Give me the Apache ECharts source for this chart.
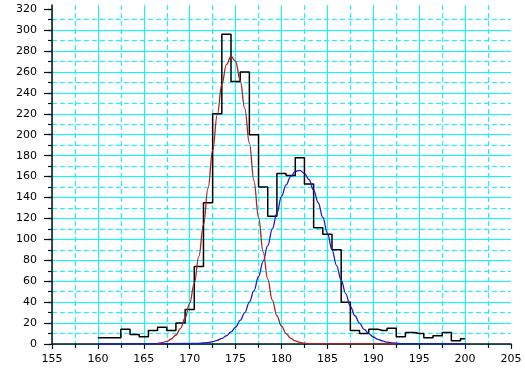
<!DOCTYPE html>
<html>
<head>
<meta charset="utf-8">
<script src="https://cdn.jsdelivr.net/npm/echarts@6/dist/echarts.min.js"></script>
<style>
  html, body { margin: 0; padding: 0; background: #ffffff; }
  #chart { width: 525px; height: 376px; }
</style>
</head>
<body>
<div id="chart"></div>
<script>
// Histogram: bin centres (width 1) and their counts
const binCenters = [160, 161, 162, 163, 164, 165, 166, 167, 168, 169,
                    170, 171, 172, 173, 174, 175, 176, 177, 178, 179,
                    180, 181, 182, 183, 184, 185, 186, 187, 188, 189,
                    190, 191, 192, 193, 194, 195, 196, 197, 198, 199, 200];
const binCounts  = [6, 6, 6, 14, 9, 7, 13, 16, 13, 20,
                    33, 74, 135, 220, 296, 251, 260, 200, 150, 122,
                    163, 161, 178, 153, 111, 105, 90, 40, 13, 10,
                    14, 13, 15, 7, 11, 10, 6, 8, 11, 3, 5];

// First fitted peak (red)
const redX = [166.5, 167, 167.5, 168, 168.5, 169, 169.5, 170, 170.5, 171,
              171.5, 172, 172.5, 173, 173.5, 174, 174.5, 175, 175.5, 176,
              176.5, 177, 177.5, 178, 178.5, 179, 179.5, 180, 180.5, 181,
              181.5, 182, 182.5, 183, 192.5];
const redY = [0.6, 1.3, 2.5, 4.8, 8.6, 15, 25, 39, 58, 84,
              114, 149, 185, 219, 248, 267, 275, 270, 252, 225,
              192, 156, 121, 88, 62, 42, 27, 17, 10, 5.4,
              2.9, 1.5, 0.7, 0.3, 0];

// Second fitted peak (blue)
const blueX = [160, 171, 172, 172.5, 173, 173.5, 174, 174.5, 175, 175.5,
               176, 176.5, 177, 177.5, 178, 178.5, 179, 179.5, 180, 180.5,
               181, 181.5, 182, 182.5, 183, 183.5, 184, 184.5, 185, 185.5,
               186, 186.5, 187, 187.5, 188, 188.5, 189, 189.5, 190, 190.5,
               191, 191.5, 192, 193, 200];
const blueY = [0, 0.5, 1.4, 2.2, 3.5, 5.3, 7.9, 11.5, 16, 22.5,
               30, 40, 51, 64.5, 79, 94, 110, 125, 141, 152,
               160, 165, 166, 163, 157, 147, 135, 121, 106, 90,
               75, 61, 48, 36, 27, 20, 14, 10, 6.7, 4.5,
               2.9, 1.8, 1.1, 0.4, 0];

// Axis ranges: [min, max, labelled step, dashed-grid step]
const xRange = [155, 205, 5, 2.5];
const yRange = [0, 324, 20, 10];
// Labelled and minor tick positions on the count axis (it runs a little past 320)
const yTickValues  = [0, 20, 40, 60, 80, 100, 120, 140, 160, 180, 200, 220, 240, 260, 280, 300, 320];
const yMinorValues = [0, 10, 20, 30, 40, 50, 60, 70, 80, 90, 100, 110, 120, 130, 140, 150, 160,
                      170, 180, 190, 200, 210, 220, 230, 240, 250, 260, 270, 280, 290, 300, 310, 320];

const zip = (xs, ys) => xs.map((x, i) => [x, ys[i]]);

const GRID_CYAN = '#00ffff';
const INK = '#111111';
const labelStyle = () => ({ fontFamily: 'DejaVu Sans', fontSize: 11, color: '#000000' });
const solidGrid = (maxLine) => ({
  show: true, showMinLine: true, showMaxLine: maxLine,
  lineStyle: { color: GRID_CYAN, width: 1, type: 'solid' }
});
const dashedGrid = () => ({
  show: true, showMinLine: false, showMaxLine: false,
  lineStyle: { color: GRID_CYAN, width: 1, type: [5, 3] }
});

const chart = echarts.init(document.getElementById('chart'), null, { renderer: 'canvas' });
chart.setOption({
  animation: false,
  backgroundColor: '#ffffff',
  grid: { left: 52, right: 14, top: 5, bottom: 32, containLabel: false },
  xAxis: [
    {
      type: 'value',
      min: xRange[0], max: xRange[1], interval: xRange[2],
      axisLine: { show: true, onZero: false, lineStyle: { color: INK, width: 1.5 } },
      axisTick: { show: true, length: 5, lineStyle: { color: INK, width: 1.2 } },
      minorTick: { show: true, splitNumber: 2, length: 4, lineStyle: { color: INK, width: 1.2 } },
      axisLabel: Object.assign({ margin: 10 }, labelStyle()),
      splitLine: solidGrid(false),
      z: 2
    },
    {
      // dashed half-step verticals
      type: 'value',
      min: xRange[0], max: xRange[1], interval: xRange[3],
      position: 'top',
      axisLine: { show: false }, axisTick: { show: false }, axisLabel: { show: false },
      splitLine: dashedGrid(),
      z: 1
    }
  ],
  yAxis: [
    {
      type: 'value',
      min: yRange[0], max: yRange[1], interval: yRange[2],
      axisLine: { show: true, onZero: false, lineStyle: { color: INK, width: 1.5 } },
      axisTick: { show: true, length: 8, customValues: yTickValues, lineStyle: { color: INK, width: 1.2 } },
      axisLabel: Object.assign({ margin: 15, customValues: yTickValues }, labelStyle()),
      splitLine: solidGrid(false),
      z: 2
    },
    {
      // dashed half-step horizontals and the short ticks
      type: 'value',
      min: yRange[0], max: yRange[1], interval: yRange[3],
      position: 'left',
      axisLine: { show: false },
      axisTick: { show: true, length: 4, customValues: yMinorValues, lineStyle: { color: INK, width: 1.2 } },
      axisLabel: { show: false },
      splitLine: dashedGrid(),
      z: 1
    }
  ],
  series: [
    {
      name: 'counts',
      type: 'line',
      step: 'middle',
      data: zip(binCenters, binCounts),
      symbol: 'none',
      lineStyle: { color: '#000000', width: 1.5 },
      z: 3
    },
    {
      name: 'peak 2',
      type: 'line',
      smooth: 0.4,
      smoothMonotone: 'x',
      data: zip(blueX, blueY),
      symbol: 'none',
      lineStyle: { color: '#1c1cc8', width: 1.3 },
      z: 4
    },
    {
      name: 'peak 1',
      type: 'line',
      smooth: 0.4,
      smoothMonotone: 'x',
      data: zip(redX, redY),
      symbol: 'none',
      lineStyle: { color: '#a82424', width: 1.3 },
      z: 5
    }
  ]
});
</script>
</body>
</html>
